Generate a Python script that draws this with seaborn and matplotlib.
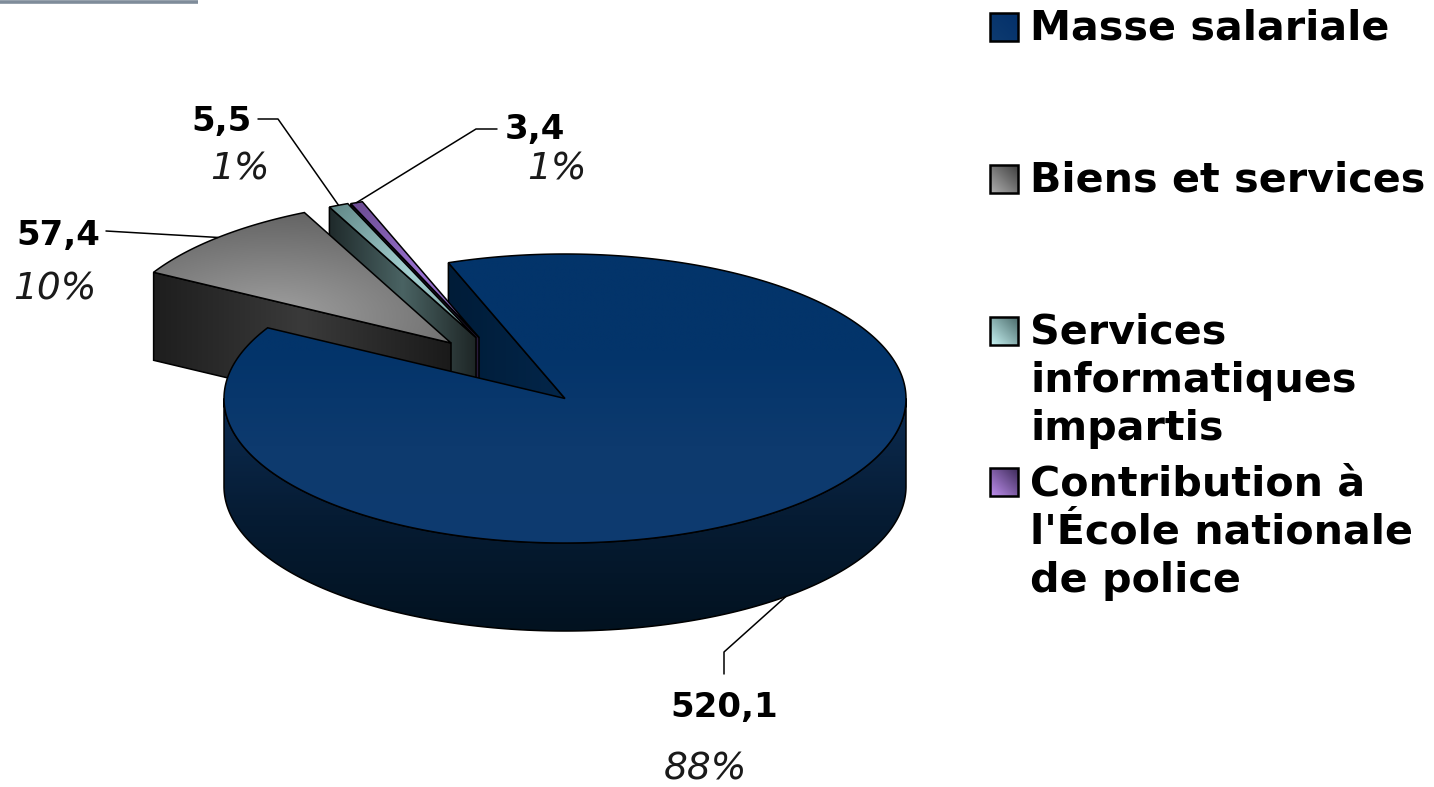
import numpy as np
import seaborn as sns
import matplotlib.pyplot as plt
from matplotlib.patches import Polygon

# Donnees
categories = ["Masse salariale", "Biens et services",
              "Services\ninformatiques\nimpartis",
              "Contribution à\nl'École nationale\nde police"]
valeurs = [520.1, 57.4, 5.5, 3.4]
pourcentages = ["88%", "10%", "1%", "1%"]

# Geometrie du camembert 3D (pixels)
CX, CY, RX, RY, DEPTH = 565, 398.5, 341, 144.5, 88
START = -20.0
explode = [(0, 0), (-114, -55.5), (-89, -61), (-86, -61)]

# Position des etiquettes
pos_valeur = [(724, 707), (58, 235), (222, 121), (535, 130)]
pos_pct = [(705, 769), (55, 290), (240, 169), (557, 169)]
coude = [[(724, 674), (724, 652)], [(106, 231), (140, 233)],
         [(258, 119), (278, 119)], [(497, 129), (476, 129)]]
leg_y = [29, 181, 381, 533]
swatch_y = [13, 165, 317, 468]

sns.set_theme(style="white")
plt.rcParams['font.family'] = ['DejaVu Sans']

fig = plt.figure(figsize=(14.34, 7.87), dpi=100)
ax = fig.add_axes([0, 0, 1, 1])
ax.set_axis_off()


def rim(angle, dx=0, dy=0):
    a = np.radians(angle)
    return CX + dx + RX * np.sin(a), CY + dy - RY * np.cos(a)


def arc(a0, a1, dx=0, dy=0):
    return [rim(a, dx, dy) for a in np.linspace(a0, a1, int(abs(a1 - a0) * 2) + 2)]


def grad_fill(verts, couleurs, focus=None, direction=(0, 1), z=1, lw=1.1):
    # degrade dans le polygone, lineaire ou radial
    verts = np.array(verts)
    x0, y0 = verts.min(axis=0)
    x1, y1 = verts.max(axis=0)
    xx, yy = np.meshgrid(np.linspace(0, 1, 300), np.linspace(0, 1, 300))
    if focus is not None:
        t = np.hypot(xx - focus[0], yy - focus[1])
    else:
        t = xx * direction[0] + yy * direction[1]
    t = (t - t.min()) / (t.max() - t.min())
    cmap = sns.blend_palette(couleurs, as_cmap=True)
    im = ax.imshow(t, cmap=cmap, extent=(x0, x1, y1, y0), aspect="auto",
                   zorder=z, interpolation="bilinear")
    poly = Polygon(verts, closed=True, facecolor="none", edgecolor="#000000", lw=lw, zorder=z + 0.1)
    ax.add_patch(poly)
    im.set_clip_path(poly)


angles = np.array(valeurs) / sum(valeurs) * 360
debut = START + np.concatenate([[0], np.cumsum(angles)[:-1]])
fin = debut + angles
milieu = (debut + fin) / 2

# Face coupee droite de la masse salariale
p = rim(START)
grad_fill([p, (CX, CY), (CX, CY + DEPTH), (p[0], p[1] + DEPTH)],
          ["#001c38", "#03264a"], direction=(1, 0), z=1)

# Tranches detachees, de l'arriere vers l'avant
cotes = {
    3: (["#1a1028", "#2a1c3c"], ["#9a72d2", "#6a4a90"], (0.55, 0.55)),
    2: (["#1f2a2b", "#4a6363", "#1e2626"], ["#a8d4d4", "#5f8585"], (0.6, 0.5)),
    1: (["#1e1e1e", "#3a3a3a", "#1a1a1a"], ["#a0a0a0", "#555555"], (0.4, 0.8)),
}
for i, z in zip([3, 2, 1], [2, 3, 4]):
    dx, dy = explode[i]
    apex = (CX + dx, CY + dy)
    ext = rim(debut[i], dx, dy)
    mur, dessus, focus = cotes[i]
    # face coupee visible
    grad_fill([ext, apex, (apex[0], apex[1] + DEPTH), (ext[0], ext[1] + DEPTH)],
              mur, direction=(1, 0), z=z)
    grad_fill([apex] + arc(debut[i], fin[i], dx, dy), dessus, focus=focus, z=z + 0.2)

# Masse salariale : paroi puis dessus
haut = arc(90, 270)
bas = [(x, y + DEPTH) for x, y in arc(270, 90)]
grad_fill(haut + bas, ["#0c2c52", "#061c34", "#021220"], direction=(0, 1), z=5)
grad_fill([(CX, CY)] + arc(debut[0], fin[0]),
          ["#03346a", "#03346a", "#0d3a6e", "#0e3b70"], direction=(0, 1), z=5.2)

# Etiquettes et traits de rappel
for i in range(len(valeurs)):
    dx, dy = explode[i]
    ancre = rim(milieu[i], dx, dy)
    if i == 0:
        ancre = (ancre[0], ancre[1] + DEPTH)
    pts = np.array(coude[i] + [ancre])
    ax.plot(pts[:, 0], pts[:, 1], color="#000000", lw=1.1, zorder=7)
    txt = f"{valeurs[i]:.1f}".replace(".", ",")
    ax.text(*pos_valeur[i], txt, fontsize=24.5, fontweight="bold", color="black",
            ha="center", va="center", zorder=8)
    ax.text(*pos_pct[i], pourcentages[i], fontsize=27, fontstyle="italic", color="#1a1a1a",
            ha="center", va="center", zorder=8)

# Legende
leg_couleurs = [["#0e3b70", "#03306a"], ["#b0b0b0", "#3e3e3e"],
                ["#c8f4f4", "#4a6a6a"], ["#c090f0", "#3c2a58"]]
for i in range(len(categories)):
    y = swatch_y[i]
    carre = [(990, y), (1018, y), (1018, y + 28), (990, y + 28)]
    grad_fill(carre, leg_couleurs[i], direction=(1, -1), z=6, lw=1.8)
    ax.text(1030, leg_y[i], categories[i], fontsize=29.7, fontweight="bold", color="black",
            ha="left", va="center", linespacing=1.27, zorder=8)

# Filet gris en haut a gauche
ax.plot([0, 198], [1.5, 1.5], color="#7f8c9a", lw=2.6, solid_capstyle="butt", zorder=1)

ax.set_xlim(0, 1434)
ax.set_ylim(787, 0)
fig.savefig("out.png", dpi=100)
